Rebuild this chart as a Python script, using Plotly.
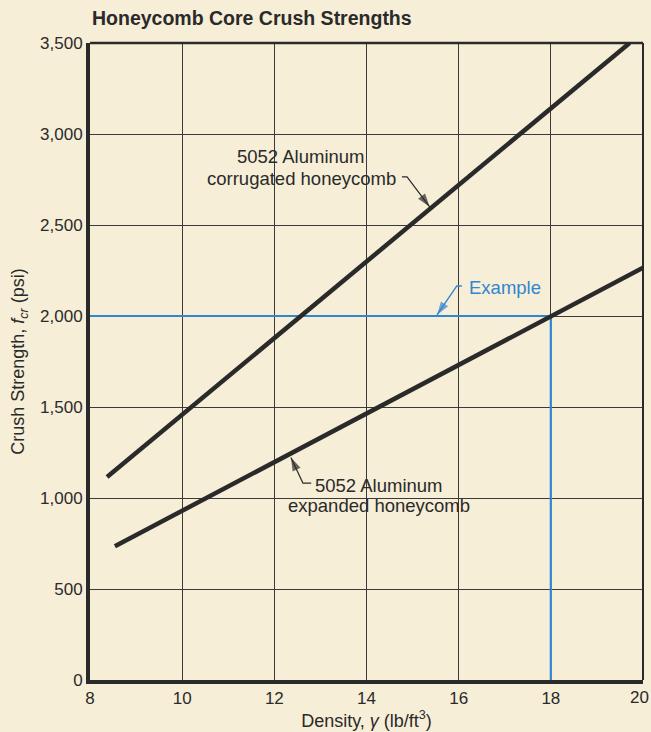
import plotly.graph_objects as go

# ---- data ----
corrugated_x = [8.37, 19.71]
corrugated_y = [1115, 3500]
expanded_x = [8.54, 20.0]
expanded_y = [735, 2265]
example_density = 18.0
example_strength = 2000

x_ticks = [8, 10, 12, 14, 16, 18, 20]
y_ticks = [0, 500, 1000, 1500, 2000, 2500, 3000, 3500]
y_tick_text = ["0", "500", "1,000", "1,500", "2,000", "2,500", "3,000", "3,500"]

BG = "#f7eed7"
INK = "#2a2a2a"
BLUE = "#2f86d2"
FONT = "Liberation Sans, Arial, Helvetica, sans-serif"

fig = go.Figure()

# example guide lines (blue)
fig.add_trace(go.Scatter(
    x=[x_ticks[0], example_density, example_density],
    y=[example_strength, example_strength, y_ticks[0]],
    mode="lines", line=dict(color=BLUE, width=2.2),
    hoverinfo="skip", showlegend=False))

fig.add_trace(go.Scatter(
    x=corrugated_x, y=corrugated_y, mode="lines",
    line=dict(color=INK, width=4.5), name="5052 Aluminum corrugated honeycomb",
    showlegend=False))
fig.add_trace(go.Scatter(
    x=expanded_x, y=expanded_y, mode="lines",
    line=dict(color=INK, width=4.5), name="5052 Aluminum expanded honeycomb",
    showlegend=False))


def leader(xs, ys, color, width):
    fig.add_trace(go.Scatter(
        x=xs, y=ys, mode="lines+markers",
        line=dict(color=color, width=width),
        marker=dict(symbol=["circle", "circle", "arrow"], size=[0, 0, 14],
                    angleref="previous", color=color, line=dict(width=0)),
        hoverinfo="skip", showlegend=False, cliponaxis=False))


leader([14.77, 14.88, 15.37], [2764, 2764, 2600], INK, 1.2)
leader([16.07, 15.96, 15.53], [2165, 2165, 2006], BLUE, 1.4)
leader([12.80, 12.62, 12.36], [1082, 1082, 1222], INK, 1.2)

axis_common = dict(
    showgrid=True, gridcolor="#3a3a3a", gridwidth=1,
    showline=True, linecolor=INK, linewidth=4,
    zeroline=False, ticks="",
    tickfont=dict(family=FONT, size=17, color=INK),
)

fig.update_xaxes(range=[x_ticks[0], x_ticks[-1]], tickvals=x_ticks[:-1],
                 title=dict(text="Density, <i>γ</i> (lb/ft<sup>3</sup>)",
                            font=dict(family=FONT, size=18, color=INK), standoff=4),
                 **axis_common)
fig.update_yaxes(range=[y_ticks[0], y_ticks[-1]], tickvals=y_ticks, ticktext=y_tick_text,
                 title=dict(text="Crush Strength, <i>f</i><sub><i>cr</i></sub> (psi)",
                            font=dict(family=FONT, size=18, color=INK), standoff=12),
                 **axis_common)

shapes = [
    # thinner top and right frame
    dict(type="line", xref="paper", yref="paper", x0=0, x1=1, y0=1, y1=1,
         line=dict(color=INK, width=2.5)),
    dict(type="line", xref="paper", yref="paper", x0=1, x1=1, y0=0, y1=1,
         line=dict(color=INK, width=2)),
]

label_font = dict(family=FONT, size=18.5, color=INK)
annotations = [
    dict(x=12.58, y=2874, xref="x", yref="y", text="5052 Aluminum",
         showarrow=False, xanchor="center", yanchor="middle", font=label_font),
    dict(x=12.58, y=2756, xref="x", yref="y", text="corrugated honeycomb",
         showarrow=False, xanchor="center", yanchor="middle", font=label_font),
    dict(x=16.17, y=2159, xref="x", yref="y", text="Example",
         showarrow=False, xanchor="left", yanchor="middle",
         font=dict(family=FONT, size=18.5, color=BLUE)),
    dict(x=14.27, y=1068, xref="x", yref="y", text="5052 Aluminum",
         showarrow=False, xanchor="center", yanchor="middle", font=label_font),
    dict(x=14.27, y=960, xref="x", yref="y", text="expanded honeycomb",
         showarrow=False, xanchor="center", yanchor="middle", font=label_font),
    # last x tick label, kept just inside the page edge as in the original
    dict(x=1, y=0, xref="paper", yref="paper", text=str(x_ticks[-1]),
         showarrow=False, xanchor="right", yanchor="top", xshift=8, yshift=-6,
         font=dict(family=FONT, size=17, color=INK)),
]

fig.update_layout(
    width=651, height=732,
    margin=dict(l=90, r=8, t=43, b=52, autoexpand=False),
    paper_bgcolor=BG, plot_bgcolor=BG,
    title=dict(text="<b>Honeycomb Core Crush Strengths</b>", x=92 / 651, xanchor="left",
               xref="container", y=1 - 18 / 732, yanchor="middle", yref="container",
               font=dict(family=FONT, size=19.5, color=INK)),
    shapes=shapes, annotations=annotations,
    font=dict(family=FONT, color=INK),
)

fig.write_html(
    "out.html",
    config={"displayModeBar": False},
    post_script="document.body.style.margin='0';document.body.style.padding='0';"
                "document.body.style.background='" + BG + "';",
)
